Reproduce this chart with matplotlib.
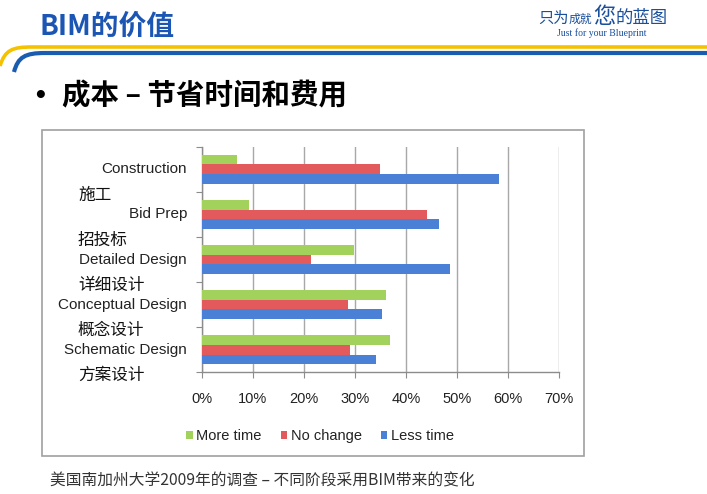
import numpy as np
import matplotlib
matplotlib.use('Agg')
import matplotlib.pyplot as plt
from matplotlib.path import Path
from matplotlib.patches import PathPatch, Rectangle
from matplotlib.ticker import PercentFormatter
import matplotlib.transforms as mtransforms

plt.rcParams['font.family'] = ['Liberation Sans', 'Noto Sans CJK SC', 'DejaVu Sans']

# data (bottom to top)
stages_en = ['Schematic Design', 'Conceptual Design', 'Detailed Design', 'Bid Prep', 'Construction']
stages_cn = ['方案设计', '概念设计', '详细设计', '招投标', '施工']
more_time = [37.0, 36.1, 29.9, 9.3, 7.0]
no_change = [29.1, 28.6, 21.4, 44.2, 35.0]
less_time = [34.2, 35.4, 48.7, 46.5, 58.2]
series_names = ['More time', 'No change', 'Less time']
colors = ['#a2d25c', '#e35a5c', '#4a80d6']

W, H = 707, 494
fig = plt.figure(figsize=(W / 100, H / 100), dpi=100)
fig.patch.set_facecolor('white')
renderer = fig.canvas.get_renderer()


def px(x, y):
    return (x / W, 1 - y / H)


# header
fig.text(*px(39, 27), 'BIM的价值', fontsize=20, fontweight='bold', color='#1c56b4',
         family=['Noto Sans CJK SC'], va='center', ha='left')

# header swoosh lines
yel = Path([px(0, 66), px(5, 50), px(12, 47), px(32, 47), px(707, 47)],
           [Path.MOVETO, Path.CURVE4, Path.CURVE4, Path.CURVE4, Path.LINETO])
blu = Path([px(14, 72), px(18, 57), px(25, 53), px(45, 53), px(707, 53)],
           [Path.MOVETO, Path.CURVE4, Path.CURVE4, Path.CURVE4, Path.LINETO])
fig.patches.append(PathPatch(yel, transform=fig.transFigure, fill=False, lw=2.6, ec='#f5c200'))
fig.patches.append(PathPatch(blu, transform=fig.transFigure, fill=False, lw=3.0, ec='#1a5cb0'))

# logo, pieces chained left to right
logo_c = '#1a4f9c'
logo_parts = [('只为', 11), ('成就', 8.5), ('您', 16), ('的蓝图', 12.5)]
xcur = 538
for txt, fs in logo_parts:
    t = fig.text(*px(xcur, 23), txt, fontsize=fs, color=logo_c, family=['Noto Sans CJK SC'],
                 va='baseline', ha='left')
    xcur = t.get_window_extent(renderer).x1 + 0.5
fig.text(*px(602, 33), 'Just for your Blueprint', fontsize=7, color=logo_c,
         family=['Liberation Serif'], ha='center', va='center')

# bullet heading
fig.text(*px(35, 96), '•', fontsize=20, fontweight='bold', color='black', va='center')
fig.text(*px(62, 96), '成本 – 节省时间和费用', fontsize=20.5, fontweight='bold', color='black',
         family=['Noto Sans CJK SC', 'DejaVu Sans'], va='center')

# chart frame
fig.patches.append(Rectangle(px(42, 456), (584 - 42) / W, (456 - 130) / H, transform=fig.transFigure,
                             fill=False, ec='#a0a0a0', lw=1.2))

# axes
ax = fig.add_axes([201.5 / W, 1 - 372.3 / H, (559 - 201.5) / W, (372.3 - 146.7) / H])
y = np.arange(len(stages_en))
bh = 0.215
for vals, off, c, name in zip([more_time, no_change, less_time], [bh, 0, -bh], colors, series_names):
    ax.barh(y + off, vals, height=bh, color=c, label=name, zorder=3)

ax.set_xlim(0, 70)
ax.set_ylim(-0.5, len(stages_en) - 0.5)
ax.set_xticks(np.arange(0, 71, 10))
ax.xaxis.set_major_formatter(PercentFormatter(decimals=0))
ax.set_yticks(np.arange(-0.5, len(stages_en), 1.0))
ax.set_yticklabels([])
ax.grid(axis='x', color='#a8a8a8', lw=1.0, zorder=0)
for s in ['top', 'right']:
    ax.spines[s].set_visible(False)
for s in ['left', 'bottom']:
    ax.spines[s].set_color('#8c8c8c')
    ax.spines[s].set_linewidth(1.0)
ax.tick_params(axis='x', length=4, color='#8c8c8c', labelsize=10.5, pad=10, labelcolor='#222222')
ax.tick_params(axis='y', length=4, color='#8c8c8c')

trans = mtransforms.blended_transform_factory(fig.transFigure, ax.transData)
for i in range(len(stages_en)):
    fig.text(187 / W, y[i], stages_en[i], transform=trans, ha='right', va='center',
             fontsize=11, color='#222222')
    fig.text(78 / W, y[i] - 0.57, stages_cn[i], transform=trans, ha='left', va='center',
             fontsize=12, color='#111111', family=['Noto Sans CJK SC'])

leg = fig.legend(loc='center', bbox_to_anchor=px(320, 436), ncol=3, frameon=False,
                 fontsize=10.5, handlelength=0.45, handleheight=0.45, handletextpad=0.25,
                 columnspacing=1.3, labelcolor='#222222')

# caption
fig.text(*px(50, 481), '美国南加州大学2009年的调查 – 不同阶段采用BIM带来的变化', fontsize=11.3,
         style='italic', color='#333333', family=['Noto Sans CJK SC', 'DejaVu Sans'], va='center')

fig.savefig('out.png', dpi=100)
